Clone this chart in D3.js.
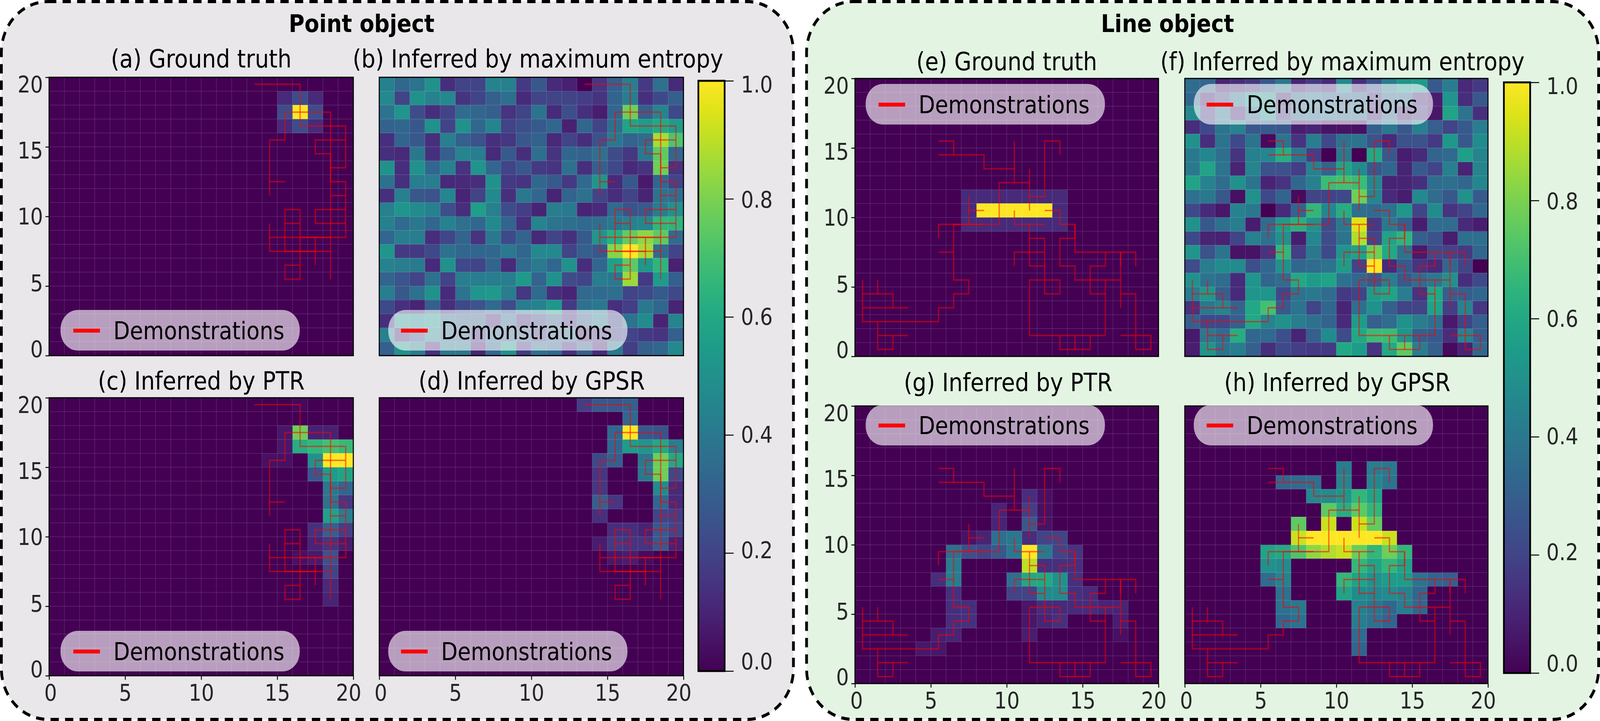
<!DOCTYPE html>
<html lang="en">
<head>
    <meta charset="UTF-8">
    <title>Point object and line object</title>
    <script src="https://d3js.org/d3.v7.min.js"></script>
    <style>
        body { margin: 0; background: #fff; font-family: "DejaVu Sans", sans-serif; overflow: hidden; }
        svg { display: block; width: 100vw; height: 100vh; }
    </style>
</head>
<body>
    <!-- the window comes out narrower than 4628px, so the drawing is fitted to the window -->
    <svg viewBox="0 0 4628 1847" preserveAspectRatio="none"></svg>

    <script>
        // Axis and colour bar labels
        const axisTicks = [0, 5, 10, 15, 20];
        const barTicks = [0, 0.2, 0.4, 0.6, 0.8, 1];

        // Walks of the demonstrations, as [column, row] of the grid cells
        const pointDemos = [
            [[13,19],[16,19],[16,16],[19,16],[19,13],[18,13]],
            [[14,11],[14,15],[15,15],[15,17],[18,17],[18,5]],
            [[14,12],[15,12]],
            [[19,15],[17,15],[17,14],[18,14]],
            [[18,12],[19,12],[19,8],[14,8],[14,9]],
            [[18,11],[19,11]],
            [[19,10],[17,10],[17,9],[19,9]],
            [[14,8],[14,7],[18,7]],
            [[16,10],[15,10],[15,7]],
            [[15,9],[16,9]],
            [[16,10],[16,5],[15,5],[15,6],[16,6]],
            [[17,8],[17,6]],
            [[16,8],[18,8]],
            [[18,14],[18,12]],
            [[15,7],[17,7]]
        ];
        const lineDemos = [
            [[5,15],[6,15],[6,14]],
            [[5,14],[8,14],[8,13],[10,13]],
            [[10,15],[10,12]],
            [[9,12],[11,12]],
            [[9,12],[9,9],[5,9],[5,8]],
            [[11,13],[11,10]],
            [[11,11],[12,11],[12,15],[13,15],[13,14]],
            [[7,11],[7,9]],
            [[7,10],[8,10]],
            [[12,10],[13,10],[13,9],[14,9],[14,7],[18,7],[18,6]],
            [[10,10],[10,9],[12,9]],
            [[11,9],[11,6],[12,6]],
            [[11,8],[12,8],[12,4],[13,4],[13,5],[11,5],[11,1],[16,1],[16,5]],
            [[10,6],[10,7],[12,7]],
            [[14,8],[13,8],[13,6],[14,6],[14,5],[17,5]],
            [[16,7],[16,6],[15,6],[15,4],[16,4]],
            [[17,7],[17,3]],
            [[17,4],[18,4],[18,0],[19,0],[19,1],[17,1]],
            [[6,9],[6,5],[7,5],[7,4],[6,4],[6,3],[5,3],[5,2],[0,2],[0,5]],
            [[5,7],[6,7]],
            [[0,4],[2,4],[2,3]],
            [[1,5],[1,4]],
            [[0,3],[3,3]],
            [[1,2],[1,0],[2,0],[2,1]],
            [[1,1],[3,1]],
            [[13,1],[13,0],[15,0],[15,1]],
            [[14,1],[14,0]],
            [[14,9],[14,8]],
            [[6,9],[8,9]],
            [[17,7],[17,6]]
        ];

        // Sparse panels: [column, row, value], everything else is 0
        const cellsA = [[16,17,1],[15,17,.23],[17,17,.23],[16,18,.23],[16,16,.23],[15,18,.12],[17,18,.12],[15,16,.12],[17,16,.12]];
        const cellsC = [[16,19,.02],[15,17,.06],[16,17,.78],[17,17,.09],[18,17,.09],[15,16,.06],[16,16,.62],[17,16,.66],[18,16,.7],[19,16,.67],
            [14,15,.04],[15,15,.04],[17,15,.5],[18,15,1],[19,15,1],[17,14,.27],[18,14,.55],[19,14,.58],[18,13,.4],[19,13,.33],[18,12,.38],[19,12,.16],
            [18,11,.57],[19,11,.42],[17,10,.14],[18,10,.3],[19,10,.18],[17,9,.1],[18,9,.15],[19,9,.08],[16,8,.04],[17,8,.07],[18,8,.25],[18,7,.2],[18,6,.12],[18,5,.1]];
        const cellsD = [[13,19,.18],[14,19,.27],[15,19,.27],[16,19,.3],[16,18,.33],[15,17,.33],[16,17,1],[17,17,.27],[18,17,.25],
            [15,16,.33],[16,16,.55],[17,16,.52],[18,16,.6],[19,16,.42],[14,15,.22],[15,15,.3],[17,15,.4],[18,15,.78],[19,15,.6],
            [14,14,.16],[17,14,.4],[18,14,.78],[19,14,.22],[14,13,.16],[18,13,.48],[19,13,.12],[14,12,.3],[15,12,.16],[18,12,.33],[19,12,.12],
            [14,11,.14],[18,11,.2],[19,11,.18],[15,10,.13],[16,10,.13],[17,10,.1],[18,10,.28],[19,10,.2],
            [14,9,.08],[15,9,.17],[16,9,.15],[17,9,.15],[18,9,.27],[19,9,.09],[15,8,.06],[16,8,.08],[17,8,.03]];
        const cellsE = [[7,11,.12],[8,11,.12],[9,11,.12],[10,11,.12],[11,11,.12],[12,11,.12],[13,11,.12],[7,10,.12],[8,10,1],[9,10,1],[10,10,1],[11,10,1],[12,10,1],[13,10,.12],
            [7,9,.12],[8,9,.12],[9,9,.12],[10,9,.12],[11,9,.12],[12,9,.12],[13,9,.12]];
        const cellsG = [[11,13,.13],[12,13,.04],[9,12,.1],[11,12,.18],[12,12,.04],[9,11,.1],[11,11,.27],[12,11,.05],
            [7,10,.05],[8,10,.1],[9,10,.36],[10,10,.4],[11,10,.13],[12,10,.2],[13,10,.2],
            [6,9,.36],[7,9,.24],[8,9,.2],[9,9,.27],[10,9,.4],[11,9,1],[12,9,.4],[13,9,.2],[14,9,.15],
            [6,8,.42],[11,8,.9],[12,8,.14],[13,8,.14],[14,8,.13],[5,7,.13],[6,7,.42],[10,7,.36],[11,7,.6],[12,7,.6],[13,7,.5],[14,7,.14],
            [6,6,.14],[10,6,.2],[11,6,.2],[12,6,.48],[13,6,.48],[14,6,.14],[15,6,.12],
            [6,5,.13],[7,5,.13],[11,5,.06],[12,5,.12],[13,5,.12],[14,5,.12],[15,5,.12],[16,5,.1],[17,5,.1],
            [6,4,.13],[7,4,.14],[11,4,.06],[12,4,.1],[13,4,.14],[17,4,.08],[5,3,.08],[6,3,.1],[11,3,.08],[17,3,.04],[4,2,.06],[5,2,.06]];
        const cellsH = [[10,15,.42],[12,15,.42],[13,15,.4],[6,14,.33],[7,14,.35],[8,14,.36],[10,14,.45],[12,14,.46],[13,14,.38],
            [8,13,.47],[9,13,.48],[10,13,.52],[11,13,.66],[12,13,.58],[9,12,.75],[10,12,.62],[11,12,.75],[12,12,.66],
            [7,11,.75],[9,11,.92],[11,11,.92],[12,11,.76],[7,10,.92],[8,10,1],[9,10,1],[10,10,1],[11,10,1],[12,10,1],[13,10,.92],
            [5,9,.58],[6,9,.6],[7,9,.72],[8,9,.83],[9,9,.88],[10,9,.92],[11,9,.77],[12,9,.66],[13,9,.78],[14,9,.66],
            [5,8,.5],[6,8,.48],[11,8,.66],[12,8,.58],[13,8,.66],[14,8,.58],
            [5,7,.35],[6,7,.44],[10,7,.66],[11,7,.58],[12,7,.5],[13,7,.55],[14,7,.55],[15,7,.38],[16,7,.32],[17,7,.3],
            [6,6,.37],[10,6,.58],[11,6,.48],[12,6,.46],[13,6,.48],[14,6,.44],[15,6,.33],
            [6,5,.37],[7,5,.4],[11,5,.43],[12,5,.38],[13,5,.33],[14,5,.42],[15,5,.33],
            [6,4,.33],[7,4,.37],[11,4,.42],[12,4,.37],[13,4,.32],[11,3,.35],[11,2,.32]];

        // Maximum entropy panels, full grids, first row is the top one (row 19)
        const rowsB = [
            [.43,.33,.38,.5,.13,.2,.2,.44,.43,.17,.27,.12,.09,0,.16,.3,.42,.17,.37,.12],
            [.47,.2,.5,.44,.47,.15,.2,.3,.36,.12,.2,.2,.2,.18,.15,.32,.42,.14,.22,.3],
            [.38,.52,.23,.13,.2,.35,.33,.3,.15,.2,.38,.12,.24,.14,.08,.33,.78,.3,.45,.22],
            [.31,.33,.27,.5,.2,.5,.33,.45,.2,.24,.28,.33,.09,.33,.2,.36,.58,.55,.6,.55],
            [.14,.32,.27,.14,.43,.3,.25,.14,.16,.27,.31,.12,.2,.13,.25,.4,.32,.35,.87,.72],
            [.14,.12,.4,.14,.3,.45,.42,.12,.28,.13,.36,.15,.33,.31,.37,.23,.16,.4,.75,.33],
            [.5,.13,.5,.33,.44,.15,.52,.33,.2,.27,.17,.15,.37,.14,.3,.22,.12,.15,.78,.15],
            [.37,.14,.42,.42,.12,.12,.13,.5,.17,.15,.33,.28,.17,.34,.52,.12,.27,.07,.33,.2],
            [.14,.43,.27,.25,.46,.1,.2,.47,.14,.4,.33,.1,.32,.37,.2,.13,.2,.1,.38,.36],
            [.43,.52,.48,.43,.24,.13,.56,.43,.23,.18,.1,.42,.41,.1,.12,.34,.25,.28,.42,.5],
            [.43,.34,.4,.33,.44,.37,.33,.47,.32,.14,.45,.38,.36,.34,.36,.4,.44,.46,.66,.65],
            [.33,.42,.42,.13,.21,.32,.15,.4,.22,.32,.11,.2,.14,.28,.52,.63,.76,.83,.75,.34],
            [.52,.17,.17,.22,.37,.33,.33,.33,.41,.33,.47,.47,.2,.3,.27,.82,1,.87,.35,.2],
            [.44,.42,.41,.12,.5,.22,.2,.32,.12,.34,.41,.33,.5,.13,.33,.57,.75,.53,.65,.09],
            [.32,.26,.2,.37,.2,.42,.42,.42,.42,.54,.32,.5,.23,.2,.42,.4,.85,.17,.55,.3],
            [.42,.27,.37,.5,.12,.38,.52,.54,.42,.16,.34,.13,.1,.34,.34,.36,.2,.22,.28,.22],
            [.22,.14,.1,.3,.13,.22,.26,.34,.23,.42,.44,.53,.17,.37,.4,.14,.18,.4,.33,.1],
            [.13,.5,.47,.5,.35,.3,.3,.13,.35,.13,.2,.3,.15,.3,.4,.2,.38,.48,.1,.45],
            [.43,.12,.25,.45,.33,.3,.14,.33,.3,.3,.17,.3,.35,.1,.15,.2,.2,.17,.15,.3],
            [.3,.5,.42,.13,.4,.4,.1,.33,.5,.17,.36,.33,.14,.3,.12,.4,.18,.3,.33,.47]
        ];
        const rowsF = [
            [.35,.33,.1,.13,.17,.27,.4,.1,.17,.12,.47,.13,.25,.42,.52,.55,.28,.42,.12,.17],
            [.33,.1,.22,.38,.5,.5,.12,.33,.38,.33,.3,.33,.15,.33,.33,.12,.08,.52,.13,.27],
            [.47,.18,.4,.12,.35,.5,.17,.33,.35,.38,.33,.35,.12,.33,.1,.17,.06,.58,.38,.14],
            [.13,.22,.38,.44,.27,.28,.27,.08,.1,.05,.05,.04,.3,.4,.27,.43,.3,.2,.28,.42],
            [.5,.13,.38,.22,.38,.03,.38,.15,.42,.22,.37,.38,.25,.12,.25,.25,.17,.53,.27,.48],
            [.4,.46,.36,.15,.43,.46,.62,.4,.18,0,.4,0,.6,.27,.08,.12,.32,.34,.56,.45],
            [.4,.58,.38,.1,.45,.25,.25,.18,.44,.32,.58,.48,.27,.33,.1,.28,.2,.43,.1,.45],
            [.58,.44,.35,.5,.38,.1,.15,.33,.43,.68,.7,.68,.46,.1,.1,.14,.35,.36,.33,.46],
            [.37,.4,.27,.04,.5,.22,.32,.03,.2,.2,.22,.78,.45,.12,.08,.47,.35,.27,.5,.28],
            [.22,.12,.06,.44,.4,0,.12,.32,.66,.46,.62,.36,.34,.37,.53,.2,.48,.15,.2,.33],
            [.5,.27,.37,.42,.08,.35,.55,.63,.5,.23,.4,.95,.17,.4,.3,.08,.35,.35,.12,.08],
            [.22,.1,.09,.2,.43,.37,.5,.08,.46,.23,.38,.88,.2,.58,.65,.3,.25,.08,.36,.36],
            [.52,.25,.38,.05,.05,.15,.66,.18,.4,.22,.52,.57,.78,.6,.38,.07,.22,.2,.17,.33],
            [.23,.42,.48,.48,.24,.33,.5,.33,.35,.38,.55,.2,1,.12,.28,.15,.12,.33,.2,0],
            [.5,.38,.35,.12,.52,.32,.35,.6,.55,.58,.37,.33,.28,.42,.28,.35,.4,.5,.13,.22],
            [.42,.53,.3,.12,.52,.52,.22,.38,.4,.35,.17,.2,.55,.58,.42,.15,.6,.3,.3,.33],
            [.15,.4,.45,.32,.6,.7,.28,.38,.2,.33,.1,.36,.5,.3,.2,.2,.58,.18,.45,.16],
            [.3,.22,.22,.3,.6,.45,.5,.42,.37,.32,.12,.55,.3,.35,.5,.42,.36,.07,.2,.3],
            [.07,.4,.35,.62,.33,.34,.24,.1,.3,.48,.23,.6,.68,.68,.52,.3,.28,.13,.45,.3],
            [.08,.52,.38,.42,.3,.13,.22,.18,.17,.17,.6,.55,.15,.6,.75,.42,.3,.03,.1,.33]
        ];

        const fromRows = rows => rows.flatMap((r, k) => r.map((v, i) => [i, 19 - k, v]));

        // Layout
        const panels = [
            { title: "(a) Ground truth", cells: cellsA, demos: pointDemos, x0: 142, x1: 1022, y0: 198, y1: 911, tx: 582, ty: 173, lx: 175, ly: 794, left: true },
            { title: "(b) Inferred by maximum entropy", cells: fromRows(rowsB), demos: pointDemos, x0: 1097, x1: 1977, y0: 198, y1: 911, tx: 1556, ty: 173, lx: 1123, ly: 794 },
            { title: "(c) Inferred by PTR", cells: cellsC, demos: pointDemos, x0: 142, x1: 1022, y0: 1019, y1: 1731, tx: 582, ty: 998, lx: 175, ly: 1616, left: true, bottom: true },
            { title: "(d) Inferred by GPSR", cells: cellsD, demos: pointDemos, x0: 1097, x1: 1977, y0: 1019, y1: 1731, tx: 1538, ty: 998, lx: 1123, ly: 1616, bottom: true },
            { title: "(e) Ground truth", cells: cellsE, demos: lineDemos, x0: 2473, x1: 3351, y0: 201, y1: 913, tx: 2912, ty: 180, lx: 2504, ly: 215, left: true },
            { title: "(f) Inferred by maximum entropy", cells: fromRows(rowsF), demos: lineDemos, x0: 3427, x1: 4304, y0: 201, y1: 913, tx: 3883, ty: 180, lx: 3453, ly: 215 },
            { title: "(g) Inferred by PTR", cells: cellsG, demos: lineDemos, x0: 2473, x1: 3351, y0: 1040, y1: 1751, tx: 2916, ty: 1002, lx: 2504, ly: 1037, left: true, bottom: true },
            { title: "(h) Inferred by GPSR", cells: cellsH, demos: lineDemos, x0: 3427, x1: 4304, y0: 1040, y1: 1751, tx: 3868, ty: 1002, lx: 3453, ly: 1037, bottom: true }
        ];
        const groups = [
            { title: "Point object", x: 4, w: 2291, fill: "#e9e7ea", tx: 1046 },
            { title: "Line object", x: 2333, w: 2291, fill: "#e3f4e3", tx: 3377 }
        ];
        const bars = [
            { x0: 2020, x1: 2096, y0: 207, y1: 1719 },
            { x0: 4350, x1: 4426, y0: 211, y1: 1724 }
        ];

        // The tick labels of the original sit a bit off their ticks
        const yLabelShift = { 0: -17, 5: -7, 10: 0, 15: 9, 20: 18 };
        const xLabelShift = { 0: 4, 5: 0, 10: 0, 15: 0, 20: -14 };
        const barLabelShift = { 0: -25, 0.2: -7, 0.4: -1, 0.6: 0, 0.8: 2, 1: 9 };

        const svg = d3.select("svg");
        const color = d3.scaleSequential(d3.interpolateViridis).domain([0, 1]);

        // Rounded dashed backgrounds
        groups.forEach(g => {
            svg.append("rect")
                .attr("x", g.x).attr("y", 4)
                .attr("width", g.w).attr("height", 1839)
                .attr("rx", 135).attr("ry", 130)
                .attr("fill", g.fill)
                .attr("stroke", "#000")
                .attr("stroke-width", 8)
                .attr("stroke-dasharray", "24 18");
            svg.append("text")
                .attr("x", g.tx).attr("y", 82)
                .attr("text-anchor", "middle")
                .attr("font-size", 62)
                .attr("font-weight", "bold")
                .attr("fill", "#000")
                .text(g.title);
        });

        // Panels
        panels.forEach(p => {
            const x = d3.scaleLinear().domain([0, 20]).range([p.x0, p.x1]);
            const y = d3.scaleLinear().domain([0, 20]).range([p.y1, p.y0]);
            const g = svg.append("g");

            // Background cell, then the values
            g.append("rect")
                .attr("x", p.x0).attr("y", p.y0)
                .attr("width", p.x1 - p.x0).attr("height", p.y1 - p.y0)
                .attr("fill", color(0));

            g.selectAll(".cell")
                .data(p.cells)
                .enter().append("rect")
                .attr("class", "cell")
                .attr("x", d => x(d[0]))
                .attr("y", d => y(d[1] + 1))
                .attr("width", d => x(d[0] + 1) - x(d[0]))
                .attr("height", d => y(d[1]) - y(d[1] + 1))
                .attr("fill", d => color(d[2]))
                .attr("shape-rendering", "crispEdges");

            // Grid
            const grid = d3.range(1, 20);
            g.selectAll(".gx").data(grid).enter().append("line")
                .attr("x1", d => x(d)).attr("x2", d => x(d))
                .attr("y1", p.y0).attr("y2", p.y1)
                .attr("stroke", "#fff").attr("stroke-opacity", 0.15).attr("stroke-width", 1.5);
            g.selectAll(".gy").data(grid).enter().append("line")
                .attr("x1", p.x0).attr("x2", p.x1)
                .attr("y1", d => y(d)).attr("y2", d => y(d))
                .attr("stroke", "#fff").attr("stroke-opacity", 0.15).attr("stroke-width", 1.5);

            // Demonstrations, every walk on its own so overlaps get brighter
            const walk = d3.line().x(d => x(d[0] + 0.5)).y(d => y(d[1] + 0.5));
            g.selectAll(".demo")
                .data(p.demos)
                .enter().append("path")
                .attr("class", "demo")
                .attr("d", walk)
                .attr("fill", "none")
                .attr("stroke", "#f00")
                .attr("stroke-opacity", 0.55)
                .attr("stroke-width", 3.5);

            // Frame
            g.append("rect")
                .attr("x", p.x0).attr("y", p.y0)
                .attr("width", p.x1 - p.x0).attr("height", p.y1 - p.y0)
                .attr("fill", "none").attr("stroke", "#000").attr("stroke-width", 3);

            // Axes
            if (p.left) {
                const ax = g.append("g")
                    .attr("transform", `translate(${p.x0},0)`)
                    .call(d3.axisLeft(y).tickValues(axisTicks).tickSize(10.5).tickPadding(7));
                styleAxis(ax);
                ax.selectAll("text")
                    .attr("dy", null)
                    .attr("y", d => yLabelShift[d] + 20);
            }
            if (p.bottom) {
                const ax = g.append("g")
                    .attr("transform", `translate(0,${p.y1})`)
                    .call(d3.axisBottom(x).tickValues(axisTicks).tickSize(10.5));
                styleAxis(ax);
                ax.selectAll("text")
                    .attr("dy", null)
                    .attr("y", 64)
                    .attr("x", d => xLabelShift[d]);
            }

            // Panel title
            g.append("text")
                .attr("x", p.tx).attr("y", p.ty)
                .attr("text-anchor", "middle")
                .attr("font-size", 64)
                .attr("fill", "#000")
                .text(p.title);

            // Legend
            const lg = g.append("g").attr("transform", `translate(${p.lx},${p.ly})`);
            lg.append("rect")
                .attr("width", 692).attr("height", 104)
                .attr("rx", 50).attr("ry", 50)
                .attr("fill", "#fff").attr("fill-opacity", 0.62);
            lg.append("line")
                .attr("x1", 37).attr("x2", 114)
                .attr("y1", 53).attr("y2", 53)
                .attr("stroke", "#f00").attr("stroke-width", 10);
            lg.append("text")
                .attr("x", 153).attr("y", 75)
                .attr("font-size", 62)
                .attr("fill", "#000")
                .text("Demonstrations");
        });

        // Colour bars
        const defs = svg.append("defs");
        const grad = defs.append("linearGradient")
            .attr("id", "viridis")
            .attr("x1", 0).attr("x2", 0).attr("y1", 1).attr("y2", 0);
        grad.selectAll("stop")
            .data(d3.range(0, 1.0001, 0.05))
            .enter().append("stop")
            .attr("offset", d => d)
            .attr("stop-color", d => color(d));

        bars.forEach(b => {
            const y = d3.scaleLinear().domain([0, 1]).range([b.y1, b.y0]);
            svg.append("rect")
                .attr("x", b.x0).attr("y", b.y0)
                .attr("width", b.x1 - b.x0).attr("height", b.y1 - b.y0)
                .attr("fill", "url(#viridis)")
                .attr("stroke", "#000").attr("stroke-width", 5);
            const ax = svg.append("g")
                .attr("transform", `translate(${b.x1 + 2},0)`)
                .call(d3.axisRight(y).tickValues(barTicks).tickSize(24).tickPadding(21).tickFormat(d3.format(".1f")));
            styleAxis(ax);
            ax.selectAll("text")
                .attr("dy", null)
                .attr("y", d => barLabelShift[d] + 20);
        });

        function styleAxis(ax) {
            ax.select(".domain").remove();
            ax.selectAll(".tick line").attr("stroke", "#000").attr("stroke-width", 2.5);
            ax.selectAll("text")
                .attr("font-size", 58)
                .attr("font-family", '"DejaVu Sans", sans-serif')
                .attr("fill", "#262626");
        }
    </script>
</body>
</html>
